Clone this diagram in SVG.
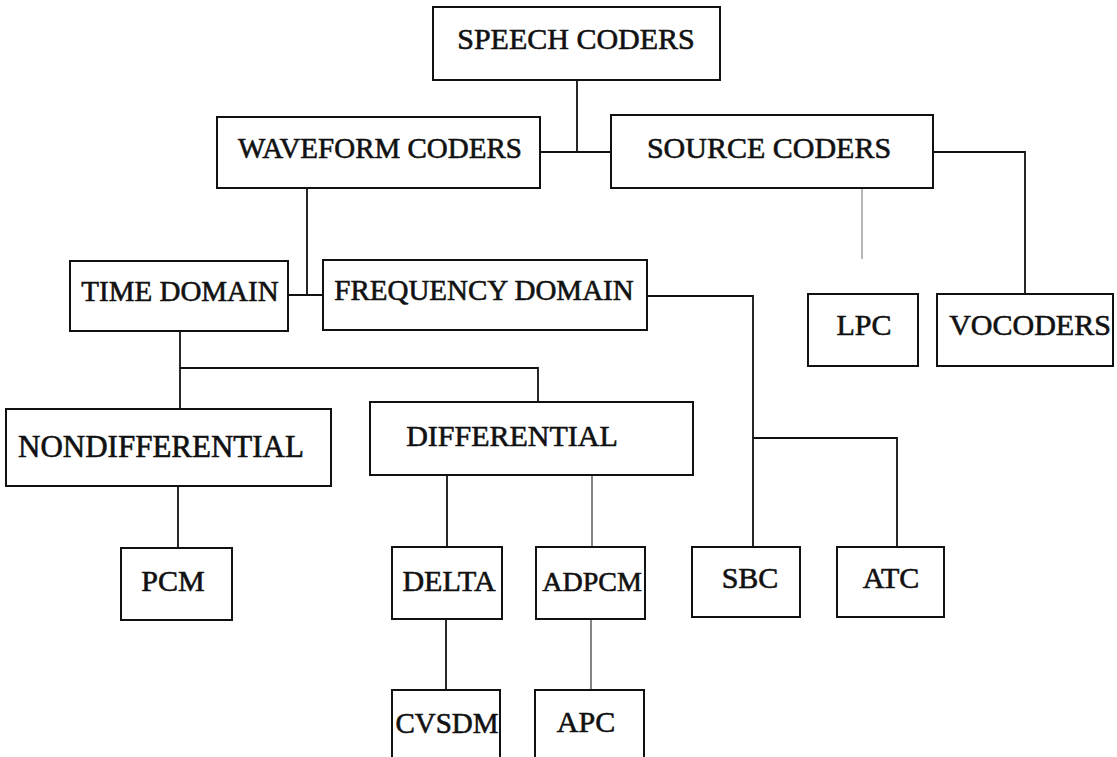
<svg xmlns="http://www.w3.org/2000/svg" width="1117" height="757" viewBox="0 0 1117 757">
<style>
.box{fill:#fff;stroke:#111;stroke-width:2}
.lbl{font-family:"Liberation Serif","Times New Roman",serif;font-size:30px;fill:#111;stroke:#111;stroke-width:0.6;text-anchor:middle}
.c{fill:none;stroke:#111;stroke-width:1.8}
.t{fill:none;stroke:#333;stroke-width:1.2}
.f{fill:none;stroke:#888;stroke-width:1.2}
</style>
<rect width="1117" height="757" fill="#fff"/>
<g id="connectors">
<path class="c" d="M577 80 V152 M540 152 H611"/>
<path class="c" d="M307 188 V295 M288 295 H323"/>
<path class="c" d="M933 152 H1025 V294"/>
<path class="f" d="M862 188 V259"/>
<path class="c" d="M180 331 V409 M180 368 H538 V402"/>
<path class="c" d="M178 486 V548"/>
<path class="c" d="M447 475 V547"/>
<path class="t" d="M592 475 V547"/>
<path class="c" d="M446 619 V690"/>
<path class="t" d="M591 619 V690"/>
<path class="c" d="M647 296 H753 V547"/>
<path class="c" d="M753 438 H897 V547"/>
</g>
<g id="speech-coders"><rect class="box" x="433" y="7" width="287" height="73"/><text class="lbl" x="576" y="49">SPEECH CODERS</text></g>
<g id="waveform-coders"><rect class="box" x="217" y="117" width="323" height="71"/><text class="lbl" x="380" y="158" style="font-size:29px">WAVEFORM CODERS</text></g>
<g id="source-coders"><rect class="box" x="611" y="115" width="322" height="73"/><text class="lbl" x="769" y="158">SOURCE CODERS</text></g>
<g id="time-domain"><rect class="box" x="70" y="261" width="218" height="70"/><text class="lbl" x="180" y="301" style="font-size:29px">TIME DOMAIN</text></g>
<g id="frequency-domain"><rect class="box" x="323" y="260" width="324" height="70"/><text class="lbl" x="484" y="300" style="font-size:29px">FREQUENCY DOMAIN</text></g>
<g id="lpc"><rect class="box" x="808" y="294" width="110" height="72"/><text class="lbl" x="864" y="335">LPC</text></g>
<g id="vocoders"><rect class="box" x="937" y="294" width="176" height="72"/><text class="lbl" x="1030" y="335">VOCODERS</text></g>
<g id="nondifferential"><rect class="box" x="6" y="409" width="325" height="77"/><text class="lbl" x="161" y="457" style="font-size:31px">NONDIFFERENTIAL</text></g>
<g id="differential"><rect class="box" x="370" y="402" width="323" height="73"/><text class="lbl" x="512" y="446">DIFFERENTIAL</text></g>
<g id="pcm"><rect class="box" x="121" y="548" width="111" height="72"/><text class="lbl" x="173" y="591">PCM</text></g>
<g id="delta"><rect class="box" x="392" y="547" width="110" height="72"/><text class="lbl" x="449" y="591">DELTA</text></g>
<g id="adpcm"><rect class="box" x="536" y="547" width="109" height="72"/><text class="lbl" x="592" y="591" style="font-size:28px">ADPCM</text></g>
<g id="sbc"><rect class="box" x="692" y="547" width="108" height="70"/><text class="lbl" x="750" y="588">SBC</text></g>
<g id="atc"><rect class="box" x="837" y="547" width="107" height="70"/><text class="lbl" x="891" y="588">ATC</text></g>
<g id="cvsdm"><rect class="box" x="392" y="690" width="108" height="80"/><text class="lbl" x="447" y="733" style="font-size:29px">CVSDM</text></g>
<g id="apc"><rect class="box" x="535" y="690" width="109" height="80"/><text class="lbl" x="586" y="732">APC</text></g>
</svg>
